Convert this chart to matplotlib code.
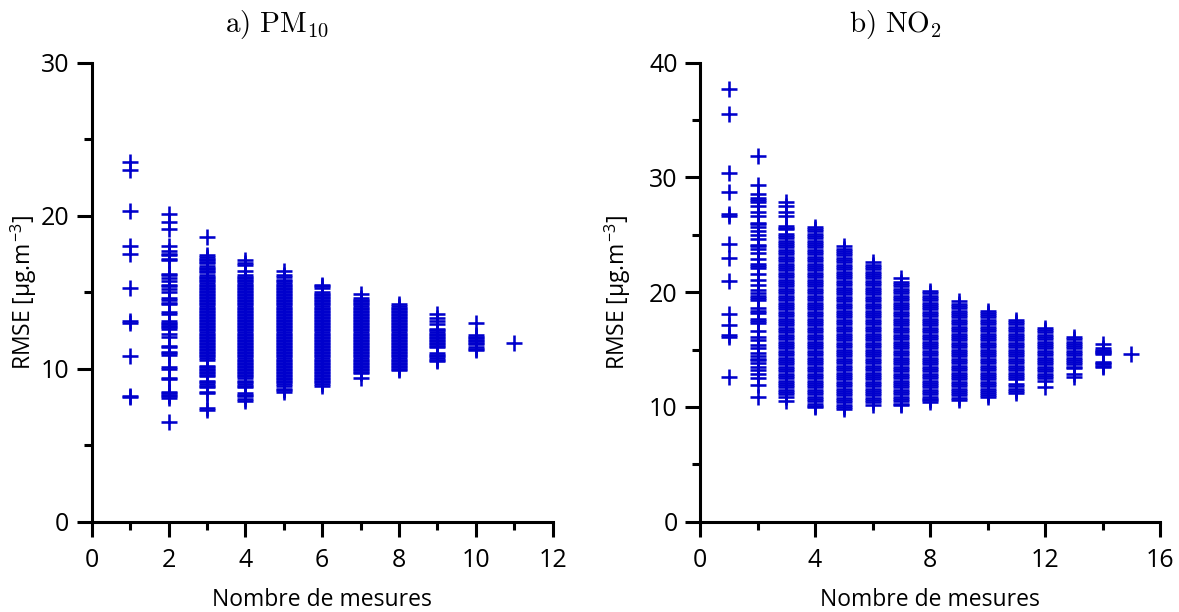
import matplotlib
matplotlib.use('Agg')
import matplotlib.pyplot as plt
from matplotlib.ticker import MultipleLocator

plt.rcParams['font.family'] = ['Open Sans', 'DejaVu Sans']
plt.rcParams['mathtext.fontset'] = 'cm'

# ---------------- data: PM10 (RMSE by number of measurements) ----------------
pm10_n = [1, 2, 3, 4, 5, 6, 7, 8, 9, 10, 11]
pm10_1 = [23.5, 23.0, 20.3, 18.0, 17.5, 15.3, 13.1, 13.0, 10.8, 8.2, 8.15]
pm10_2 = [20.1, 19.6, 19.1, 18.0, 17.7, 17.5, 17.4, 17.2, 17.1, 16.2, 16.1, 15.9,
          15.7, 15.5, 15.4, 15.2, 15.0, 14.6, 14.5, 14.3, 14.2, 13.7, 13.6, 13.1,
          13.0, 12.9, 12.8, 12.7, 12.6, 12.3, 12.1, 11.5, 11.4, 11.1, 11.0, 10.9,
          10.1, 10.0, 9.4, 9.3, 8.5, 8.4, 8.3, 8.2, 8.1, 6.5]
pm10_3 = [18.6, 17.4, 17.3, 17.2, 17.1, 17.0, 16.9, 16.7, 16.6, 16.5, 16.4, 16.3,
          16.1, 16.0, 15.9, 15.8, 15.7, 15.6, 15.5, 15.4, 15.3, 15.2, 15.1, 15.0,
          14.9, 14.8, 14.7, 14.6, 14.5, 14.4, 14.3, 14.2, 14.1, 14.0, 13.9, 13.8,
          13.7, 13.6, 13.5, 13.4, 13.3, 13.2, 13.1, 13.0, 12.9, 12.8, 12.7, 12.6,
          12.5, 12.4, 12.3, 12.2, 12.1, 12.0, 11.9, 11.8, 11.7, 11.6, 11.5, 11.4,
          11.3, 11.2, 11.1, 11.0, 10.9, 10.8, 10.7, 10.6, 10.2, 10.1, 10.0, 9.9,
          9.8, 9.7, 9.6, 9.5, 9.2, 9.1, 9.0, 8.9, 8.8, 8.5, 8.4, 7.4, 7.3]
pm10_4 = [17.1, 16.9, 16.8, 16.4, 16.1, 16.0, 15.9, 15.8, 15.7, 15.6, 15.5, 15.4,
          15.3, 15.2, 15.1, 15.0, 14.9, 14.8, 14.7, 14.6, 14.5, 14.4, 14.3, 14.2,
          14.1, 14.0, 13.9, 13.8, 13.7, 13.6, 13.5, 13.4, 13.3, 13.2, 13.1, 13.0,
          12.9, 12.8, 12.7, 12.6, 12.5, 12.4, 12.3, 12.2, 12.1, 12.0, 11.9, 11.8,
          11.7, 11.6, 11.5, 11.4, 11.3, 11.2, 11.1, 11.0, 10.9, 10.8, 10.7, 10.6,
          10.5, 10.4, 10.3, 10.2, 10.1, 10.0, 9.9, 9.8, 9.7, 9.6, 9.5, 9.4, 9.2,
          9.1, 9.0, 8.9, 8.8, 8.4, 8.3, 8.2, 8.0, 7.9]
pm10_5 = [16.4, 16.1, 16.0, 15.8, 15.7, 15.6, 15.5, 15.4, 15.3, 15.2, 15.1, 15.0,
          14.9, 14.8, 14.7, 14.6, 14.5, 14.4, 14.3, 14.2, 14.1, 14.0, 13.9, 13.8,
          13.7, 13.6, 13.5, 13.4, 13.3, 13.2, 13.1, 13.0, 12.9, 12.8, 12.7, 12.6,
          12.5, 12.4, 12.3, 12.2, 12.1, 12.0, 11.9, 11.8, 11.7, 11.6, 11.5, 11.4,
          11.3, 11.2, 11.1, 11.0, 10.9, 10.8, 10.7, 10.6, 10.5, 10.4, 10.3, 10.2,
          10.1, 10.0, 9.9, 9.8, 9.7, 9.6, 9.5, 9.4, 9.3, 9.2, 9.1, 9.0, 8.9,
          8.7, 8.6, 8.5]
pm10_6 = [15.5, 15.4, 15.3, 15.0, 14.9, 14.8, 14.7, 14.6, 14.5, 14.4, 14.3, 14.2,
          14.1, 14.0, 13.9, 13.8, 13.7, 13.6, 13.5, 13.4, 13.3, 13.2, 13.1, 13.0,
          12.9, 12.8, 12.7, 12.6, 12.5, 12.4, 12.3, 12.2, 12.1, 12.0, 11.9, 11.8,
          11.7, 11.6, 11.5, 11.4, 11.3, 11.2, 11.1, 11.0, 10.9, 10.8, 10.7, 10.6,
          10.5, 10.4, 10.3, 10.2, 10.1, 10.0, 9.9, 9.8, 9.7, 9.6, 9.5, 9.4, 9.3,
          9.2, 9.1, 9.0, 8.9]
pm10_7 = [14.9, 14.6, 14.5, 14.4, 14.3, 14.2, 14.1, 14.0, 13.9, 13.8, 13.7, 13.6,
          13.5, 13.4, 13.3, 13.2, 13.1, 13.0, 12.9, 12.8, 12.7, 12.6, 12.5, 12.4,
          12.3, 12.2, 12.1, 12.0, 11.9, 11.8, 11.7, 11.6, 11.5, 11.4, 11.3, 11.2,
          11.1, 11.0, 10.9, 10.8, 10.7, 10.6, 10.5, 10.4, 10.3, 10.2, 10.1, 10.0,
          9.9, 9.8, 9.7, 9.4]
pm10_8 = [14.2, 14.1, 14.0, 13.9, 13.8, 13.7, 13.6, 13.5, 13.4, 13.3, 13.2, 13.1,
          13.0, 12.9, 12.8, 12.7, 12.6, 12.5, 12.4, 12.3, 12.2, 12.1, 12.0, 11.9,
          11.8, 11.7, 11.6, 11.5, 11.4, 11.3, 11.2, 11.1, 11.0, 10.9, 10.8, 10.7,
          10.6, 10.5, 10.4, 10.3, 10.2, 10.1, 10.0, 9.9]
pm10_9 = [13.6, 13.3, 13.1, 12.9, 12.6, 12.5, 12.4, 12.3, 12.2, 12.1, 12.0, 11.9,
          11.8, 11.7, 11.6, 11.5, 11.4, 11.0, 10.9, 10.8, 10.7, 10.6, 10.5]
pm10_10 = [13.0, 12.2, 12.1, 12.0, 11.9, 11.8, 11.7, 11.6, 11.4, 11.3, 11.2]
pm10_11 = [11.7]
pm10_cols = [pm10_1, pm10_2, pm10_3, pm10_4, pm10_5, pm10_6, pm10_7, pm10_8,
             pm10_9, pm10_10, pm10_11]

# ---------------- data: NO2 ----------------
no2_n = [1, 2, 3, 4, 5, 6, 7, 8, 9, 10, 11, 12, 13, 14, 15]
no2_1 = [37.7, 35.5, 30.4, 28.7, 26.8, 26.6, 24.2, 23.0, 21.0, 18.1, 17.1, 16.3,
         16.1, 12.6]
no2_2 = [31.9, 29.3, 28.6, 28.2, 28.0, 27.9, 27.5, 27.0, 26.6, 26.0, 25.9, 25.7,
         25.3, 25.0, 24.6, 24.1, 24.0, 23.8, 23.4, 22.9, 22.5, 22.3, 22.1, 21.6,
         21.1, 20.6, 20.2, 19.9, 19.7, 19.5, 19.3, 18.6, 18.4, 18.2, 17.7, 17.5,
         17.3, 16.6, 16.1, 15.8, 15.4, 15.1, 14.7, 14.4, 14.2, 14.1, 13.8, 13.5,
         13.2, 12.9, 12.5, 11.9, 10.9]
no2_3 = [27.9, 27.5, 27.0, 26.6, 25.8, 25.6, 25.5, 25.1, 24.9, 24.7, 24.5, 24.3,
         24.1, 23.9, 23.7, 23.5, 23.3, 23.1, 22.9, 22.7, 22.5, 22.3, 22.1, 21.9,
         21.7, 21.5, 21.3, 21.1, 20.9, 20.7, 20.5, 20.3, 20.1, 19.9, 19.7, 19.5,
         19.3, 19.1, 18.9, 18.7, 18.5, 18.3, 18.1, 17.9, 17.7, 17.5, 17.3, 17.1,
         16.9, 16.7, 16.5, 16.3, 16.1, 15.9, 15.7, 15.5, 15.3, 15.1, 14.9, 14.7,
         14.5, 14.3, 14.1, 13.9, 13.7, 13.5, 13.3, 13.1, 12.9, 12.7, 12.5, 12.3,
         12.1, 11.9, 11.7, 11.5, 11.3, 11.1, 10.9, 10.5]
no2_4 = [25.7, 25.5, 25.3, 25.1, 24.9, 24.7, 24.5, 24.3, 24.1, 23.9, 23.7, 23.5,
         23.3, 23.1, 22.9, 22.7, 22.5, 22.3, 22.1, 21.9, 21.7, 21.5, 21.3, 21.1,
         20.9, 20.7, 20.5, 20.3, 20.1, 19.9, 19.7, 19.5, 19.3, 19.1, 18.9, 18.7,
         18.5, 18.3, 18.1, 17.9, 17.7, 17.5, 17.3, 17.1, 16.9, 16.7, 16.5, 16.3,
         16.1, 15.9, 15.7, 15.5, 15.3, 15.1, 14.9, 14.7, 14.5, 14.3, 14.1, 13.9,
         13.7, 13.5, 13.3, 13.1, 12.9, 12.7, 12.5, 12.3, 12.1, 11.9, 11.7, 11.5,
         11.3, 11.1, 10.9, 10.7, 10.5, 10.3, 10.1, 10.0]
no2_5 = [24.0, 23.8, 23.6, 23.4, 23.2, 23.0, 22.8, 22.6, 22.4, 22.2, 22.0, 21.8,
         21.6, 21.4, 21.2, 21.0, 20.8, 20.6, 20.4, 20.2, 20.0, 19.8, 19.6, 19.4,
         19.2, 19.0, 18.8, 18.6, 18.4, 18.2, 18.0, 17.8, 17.6, 17.4, 17.2, 17.0,
         16.8, 16.6, 16.4, 16.2, 16.0, 15.8, 15.6, 15.4, 15.2, 15.0, 14.8, 14.6,
         14.4, 14.2, 14.0, 13.8, 13.6, 13.4, 13.2, 13.0, 12.8, 12.6, 12.4, 12.2,
         12.0, 11.8, 11.6, 11.4, 11.2, 11.0, 10.8, 10.6, 10.4, 10.2, 10.0, 9.8]
no2_6 = [22.6, 22.4, 22.2, 22.0, 21.8, 21.6, 21.4, 21.2, 21.0, 20.8, 20.6, 20.4,
         20.2, 20.0, 19.8, 19.6, 19.4, 19.2, 19.0, 18.8, 18.6, 18.4, 18.2, 18.0,
         17.8, 17.6, 17.4, 17.2, 17.0, 16.8, 16.6, 16.4, 16.2, 16.0, 15.8, 15.6,
         15.4, 15.2, 15.0, 14.8, 14.6, 14.4, 14.2, 14.0, 13.8, 13.6, 13.4, 13.2,
         13.0, 12.8, 12.6, 12.4, 12.2, 12.0, 11.8, 11.6, 11.4, 11.2, 11.0, 10.8,
         10.6, 10.4, 10.2]
no2_7 = [21.2, 20.9, 20.7, 20.5, 20.3, 20.1, 19.9, 19.7, 19.5, 19.3, 19.1, 18.9,
         18.7, 18.5, 18.3, 18.1, 17.9, 17.7, 17.5, 17.3, 17.1, 16.9, 16.7, 16.5,
         16.3, 16.1, 15.9, 15.7, 15.5, 15.3, 15.1, 14.9, 14.7, 14.5, 14.3, 14.1,
         13.9, 13.7, 13.5, 13.3, 13.1, 12.9, 12.7, 12.5, 12.3, 12.1, 11.9, 11.7,
         11.5, 11.3, 11.1, 10.9, 10.7, 10.5, 10.3, 10.2]
no2_8 = [20.1, 19.9, 19.7, 19.5, 19.3, 19.1, 18.9, 18.7, 18.5, 18.3, 18.1, 17.9,
         17.7, 17.5, 17.3, 17.1, 16.9, 16.7, 16.5, 16.3, 16.1, 15.9, 15.7, 15.5,
         15.3, 15.1, 14.9, 14.7, 14.5, 14.3, 14.1, 13.9, 13.7, 13.5, 13.3, 13.1,
         12.9, 12.7, 12.5, 12.3, 12.1, 11.9, 11.7, 11.5, 11.3, 11.1, 10.9, 10.7,
         10.6, 10.4]
no2_9 = [19.2, 19.0, 18.8, 18.6, 18.4, 18.2, 18.0, 17.8, 17.6, 17.4, 17.2, 17.0,
         16.8, 16.6, 16.4, 16.2, 16.0, 15.8, 15.6, 15.4, 15.2, 15.0, 14.8, 14.6,
         14.4, 14.2, 14.0, 13.8, 13.6, 13.4, 13.2, 13.0, 12.8, 12.6, 12.4, 12.2,
         12.0, 11.8, 11.6, 11.4, 11.2, 11.0, 10.8, 10.6]
no2_10 = [18.4, 18.2, 18.0, 17.8, 17.6, 17.4, 17.2, 17.0, 16.8, 16.6, 16.4, 16.2,
          16.0, 15.8, 15.6, 15.4, 15.2, 15.0, 14.8, 14.6, 14.4, 14.2, 14.0, 13.8,
          13.6, 13.4, 13.2, 13.0, 12.8, 12.6, 12.4, 12.2, 12.0, 11.8, 11.6, 11.4,
          11.2, 11.0, 10.9]
no2_11 = [17.6, 17.4, 17.2, 17.0, 16.8, 16.6, 16.4, 16.2, 16.0, 15.8, 15.6, 15.4,
          15.2, 15.0, 14.8, 14.6, 14.4, 14.2, 14.0, 13.8, 13.6, 13.4, 13.2, 13.0,
          12.8, 12.6, 12.4, 12.0, 11.8, 11.6, 11.4, 11.2]
no2_12 = [16.9, 16.7, 16.5, 16.3, 16.1, 15.9, 15.7, 15.5, 15.3, 15.1, 14.9, 14.7,
          14.5, 14.3, 14.1, 13.9, 13.7, 13.5, 13.3, 13.1, 12.9, 12.7, 12.5, 12.3,
          11.7]
no2_13 = [16.1, 15.9, 15.7, 15.5, 15.3, 15.1, 14.9, 14.7, 14.5, 14.3, 14.1, 13.9,
          13.7, 13.5, 13.4, 12.9, 12.6]
no2_14 = [15.5, 15.1, 15.0, 14.9, 14.8, 14.7, 14.6, 13.9, 13.8, 13.7, 13.6, 13.5]
no2_15 = [14.6]
no2_cols = [no2_1, no2_2, no2_3, no2_4, no2_5, no2_6, no2_7, no2_8, no2_9,
            no2_10, no2_11, no2_12, no2_13, no2_14, no2_15]

# ---------------- figure ----------------
W, H = 1179, 612
fig = plt.figure(figsize=(W / 100, H / 100), dpi=100)


def ax_at(x0, x1, y0, y1):
    return fig.add_axes([x0 / W, 1 - y1 / H, (x1 - x0) / W, (y1 - y0) / H])


axL = ax_at(91.7, 552.7, 62.7, 521.7)
axR = ax_at(700, 1160, 62.7, 521.7)

MARK = dict(linestyle='none', marker='+', ms=11.5, mew=1.85, color='#0000cc')

for n, vals in zip(pm10_n, pm10_cols):
    axL.plot([n] * len(vals), vals, **MARK)
for n, vals in zip(no2_n, no2_cols):
    axR.plot([n] * len(vals), vals, **MARK)

axL.set_xlim(0, 12)
axL.set_ylim(0, 30)
axL.xaxis.set_major_locator(MultipleLocator(2))
axL.xaxis.set_minor_locator(MultipleLocator(1))
axL.yaxis.set_major_locator(MultipleLocator(10))
axL.yaxis.set_minor_locator(MultipleLocator(5))

axR.set_xlim(0, 16)
axR.set_ylim(0, 40)
axR.xaxis.set_major_locator(MultipleLocator(4))
axR.xaxis.set_minor_locator(MultipleLocator(2))
axR.yaxis.set_major_locator(MultipleLocator(10))
axR.yaxis.set_minor_locator(MultipleLocator(5))

for ax in (axL, axR):
    for s in ('top', 'right'):
        ax.spines[s].set_visible(False)
    for s in ('left', 'bottom'):
        ax.spines[s].set_linewidth(2.2)
    ax.tick_params(which='major', direction='out', length=11, width=2.2,
                   labelsize=18)
    ax.tick_params(which='minor', direction='out', length=5.5, width=2.2)
    ax.tick_params(axis='x', which='major', pad=8)
    ax.tick_params(axis='y', which='major', pad=5)

# axis labels
xlab = 'Nombre de mesures'
ylab = r'RMSE [µg.m$^{\mathregular{-3}}$]'
fig.text(322.2 / W, 1 - 606 / H, xlab, ha='center', va='baseline', fontsize=16.5)
fig.text(930 / W, 1 - 606 / H, xlab, ha='center', va='baseline', fontsize=16.5)
fig.text(24 / W, 1 - 292.2 / H, ylab, rotation=90, ha='center', va='center',
         fontsize=16.5)
fig.text(618 / W, 1 - 292.2 / H, ylab, rotation=90, ha='center', va='center',
         fontsize=16.5)

# titles
fig.text(277 / W, 1 - 31.7 / H, r'$\mathrm{a)\ PM_{10}}$', ha='center',
         va='baseline', fontsize=21)
fig.text(896 / W, 1 - 31.7 / H, r'$\mathrm{b)\ NO_{2}}$', ha='center',
         va='baseline', fontsize=21)

fig.savefig('out.png', dpi=100)
